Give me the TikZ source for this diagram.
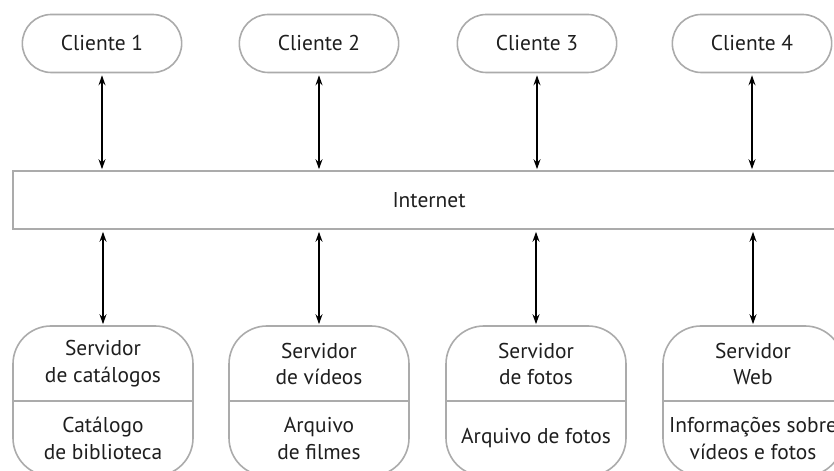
\documentclass[tikz,border=0pt]{standalone}
\usepackage{fontspec}
\setmainfont{PT Sans}
\usetikzlibrary{arrows.meta,shapes.misc}
\definecolor{edgegray}{HTML}{ABABAB}
\definecolor{txt}{HTML}{1E1E1E}
\tikzset{
  client/.style={rounded rectangle, draw=edgegray, line width=1.6bp, minimum width=166bp, minimum height=58bp, text=txt, font=\fontsize{21.5}{26}\selectfont},
  server/.style={draw=edgegray, line width=1.6bp, rounded corners=38bp, minimum width=180bp, minimum height=150bp},
  label/.style={align=center, text=txt, font=\fontsize{21.5}{27}\selectfont, inner sep=0pt},
  link/.style={{Stealth[length=10bp,width=7bp]}-{Stealth[length=10bp,width=7bp]}, line width=1.4bp, black, shorten <=2bp, shorten >=1bp}
}
\begin{document}
\begin{tikzpicture}[x=1bp,y=-1bp]
\useasboundingbox (0,0) rectangle (834,471);
\clip (0,0) rectangle (834,471);
% clients
\node[client] (c1) at (102,43.5) {Cliente 1};
\node[client] (c2) at (319,43.5) {Cliente 2};
\node[client] (c3) at (537,43.5) {Cliente 3};
\node[client] (c4) at (752,43.5) {Cliente 4};
% internet band
\node[draw=edgegray, line width=1.6bp, minimum width=842bp, minimum height=58bp, anchor=west] (net) at (12,200) {};
\node[label] (nettxt) at (429,200) {Internet};
% servers
\node[server] (s1) at (103,401) {};
\node[server] (s2) at (319,401) {};
\node[server] (s3) at (536,401) {};
\node[server] (s4) at (753,401) {};
\foreach \s in {s1,s2,s3,s4}
  \draw[edgegray, line width=1.6bp] (\s.west) -- (\s.east);
\node[label] (s1a) at (103,364) {Servidor\\de catálogos};
\node[label] (s1b) at (103,438.5) {Catálogo\\de biblioteca};
\node[label] (s2a) at (319,364) {Servidor\\de vídeos};
\node[label] (s2b) at (319,438.5) {Arquivo\\de filmes};
\node[label] (s3a) at (536,364) {Servidor\\de fotos};
\node[label] (s3b) at (536,438.5) {Arquivo de fotos};
\node[label] (s4a) at (753,364) {Servidor\\Web};
\node[label] (s4b) at (753,438.5) {Informações sobre\\vídeos e fotos};
% connectors
\foreach \c in {c1,c2,c3,c4}
  \draw[link] (\c.south) -- (\c.south |- net.north);
\foreach \s in {s1,s2,s3,s4}
  \draw[link] (\s.north |- net.south) -- (\s.north);
\end{tikzpicture}
\end{document}
